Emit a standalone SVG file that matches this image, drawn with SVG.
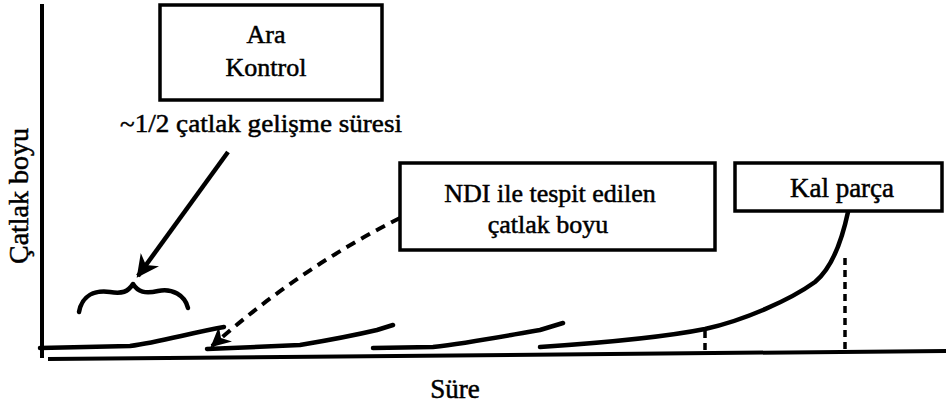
<svg xmlns="http://www.w3.org/2000/svg" width="946" height="406" viewBox="0 0 946 406">
<style>
text{font-family:"Liberation Serif","DejaVu Serif","Times New Roman",serif;fill:#000;stroke:#000;stroke-width:0.5;}
.box{fill:#fff;stroke:#000;stroke-width:3.5;}
.curve{fill:none;stroke:#000;stroke-width:4.5;stroke-linecap:round;stroke-linejoin:round;}
.axis{stroke:#000;stroke-width:4;fill:none;}
.dash{fill:none;stroke:#000;stroke-width:4;stroke-dasharray:10 7;}
.vdash{fill:none;stroke:#000;stroke-width:3.5;stroke-dasharray:7 5;}
</style>
<defs>
<marker id="ah" viewBox="0 0 10 10" refX="9" refY="5" markerWidth="5" markerHeight="5" orient="auto" markerUnits="strokeWidth">
<path d="M0,0 L10,5 L0,10 L3,5 Z" fill="#000"/>
</marker>
</defs>
<g id="axes">
<line class="axis" x1="42" y1="4" x2="42" y2="358"/>
<line class="axis" x1="48" y1="359" x2="946" y2="351"/>
<text x="0" y="0" font-size="28" text-anchor="middle" transform="translate(28,196) rotate(-90)">Çatlak boyu</text>
<text x="455" y="398" font-size="27" text-anchor="middle">Süre</text>
</g>
<g id="curves">
<path class="curve" d="M40,348 L130,346 C160,342 190,333 224,327"/>
<path class="curve" d="M207,349 L300,345 C330,340 360,334 377,330 L393,325"/>
<path class="curve" d="M373,348 L433,347 C470,343 510,335 540,330 L563,323"/>
<path class="curve" d="M540,347 C600,343 660,338 705,329 C745,320 790,300 815,282 C832,268 842,240 848,212"/>
<line class="vdash" x1="705" y1="331" x2="705" y2="352"/>
<line class="vdash" x1="845" y1="258" x2="845" y2="350"/>
<path class="curve" d="M79,312 C82,295 95,290 110,292 C122,294 128,292 133,284 C138,292 145,294 158,291 C172,288 185,295 188,308" stroke-width="5"/>
</g>
<g id="connectors">
<line x1="228" y1="152" x2="138" y2="276" stroke="#000" stroke-width="4.5" marker-end="url(#ah)"/>
<path class="dash" d="M400,218 Q300,268 212,346" marker-end="url(#ah)"/>
</g>
<g id="ara-kontrol">
<rect class="box" x="160" y="5" width="222" height="95"/>
<text x="266" y="43" font-size="26" text-anchor="middle">Ara</text>
<text x="266" y="76" font-size="26" text-anchor="middle">Kontrol</text>
</g>
<g id="label-half">
<text x="120" y="132" font-size="26" textLength="282" lengthAdjust="spacingAndGlyphs">~1/2 çatlak gelişme süresi</text>
</g>
<g id="ndi">
<rect class="box" x="400" y="163" width="315" height="87"/>
<text x="550" y="202" font-size="26" text-anchor="middle">NDI ile tespit edilen</text>
<text x="548" y="233" font-size="26" text-anchor="middle">çatlak boyu</text>
</g>
<g id="kal-parca">
<rect class="box" x="735" y="163" width="207" height="48"/>
<text x="842" y="197" font-size="27" text-anchor="middle">Kal parça</text>
</g>
</svg>
